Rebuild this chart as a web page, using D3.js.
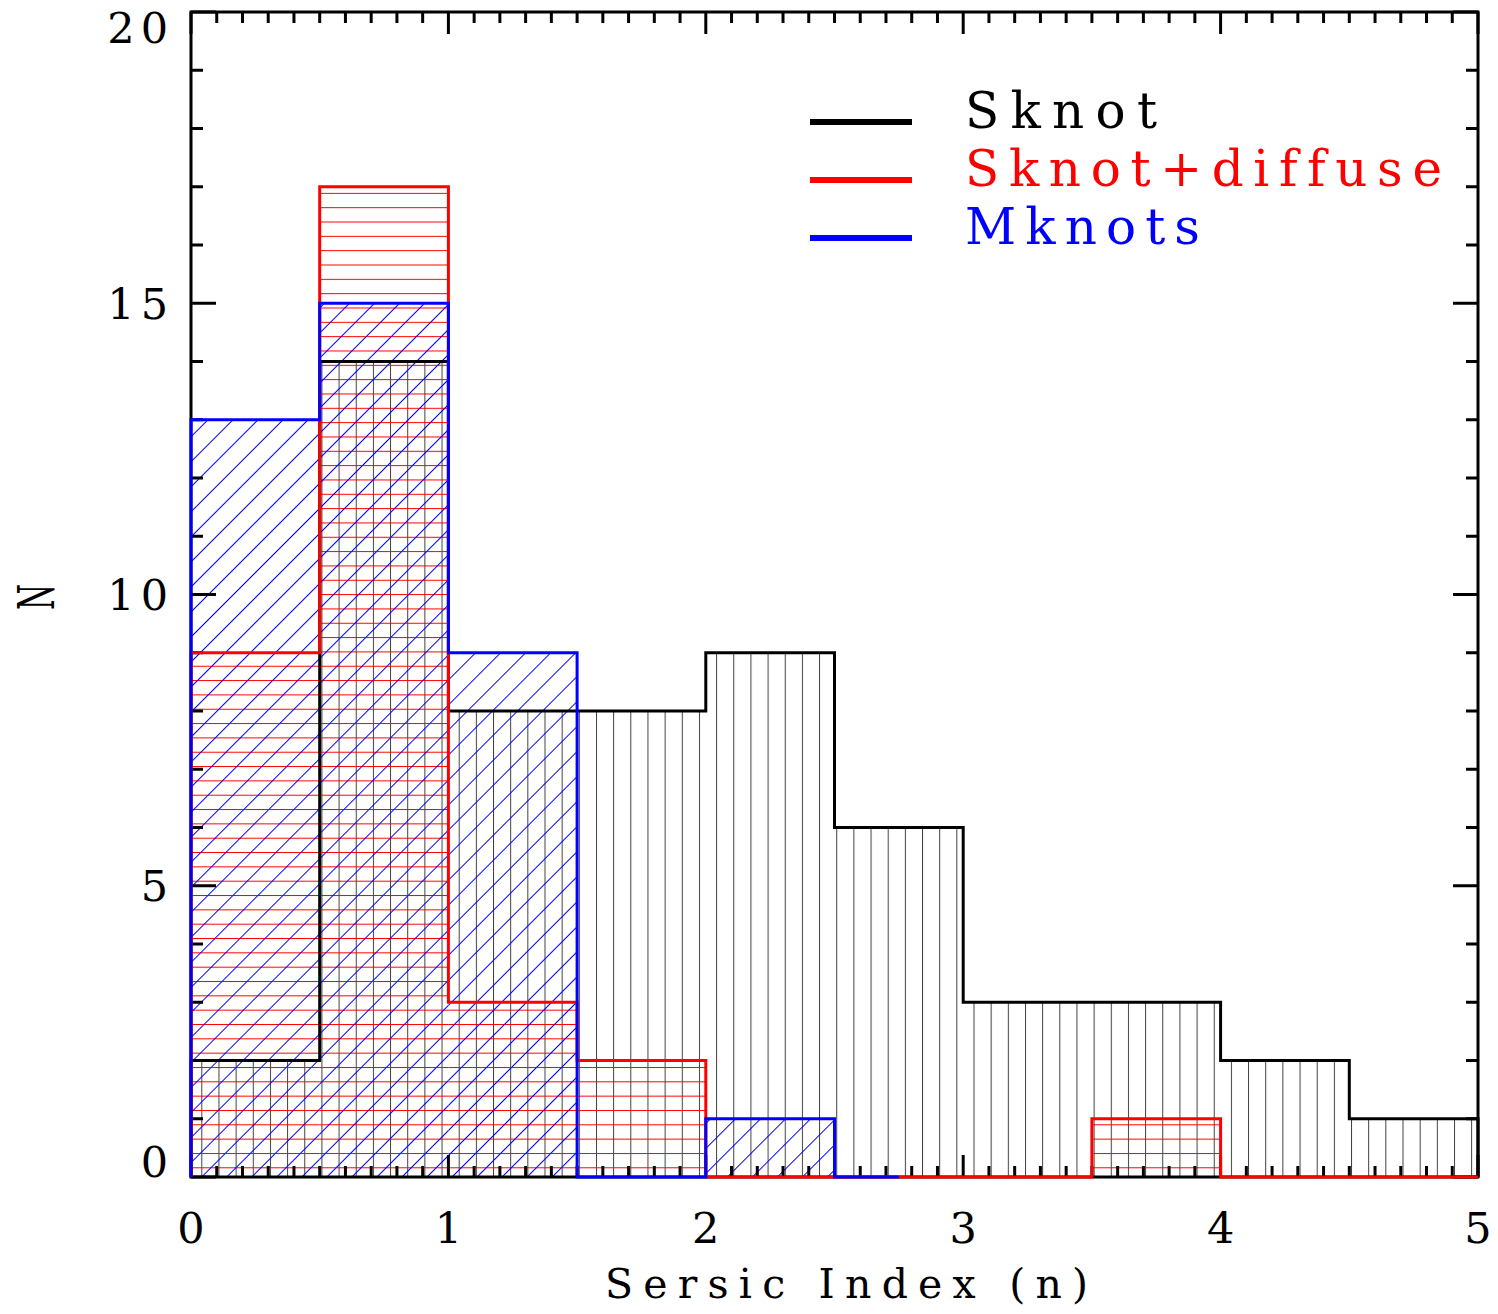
<!DOCTYPE html>
<html>
<head>
  <title>Sersic index histograms</title>
  <script src="https://d3js.org/d3.v7.min.js"></script>
  <style>
    body { margin: 0; background: #fff; }
    text { font-family: "DejaVu Serif", "Liberation Serif", serif; font-variant-ligatures: none; }
  </style>
</head>
<body>
  <svg id="chart" width="1498" height="1314"></svg>

  <script>
    // histogram bins (Sersic index n), bin width 0.5
    const binStarts = [0, 0.5, 1, 1.5, 2, 2.5, 3, 3.5, 4, 4.5];
    const binWidth = 0.5;

    // counts per bin
    const sknot        = [2, 14, 8, 8, 9, 6, 3, 3, 2, 1];
    const sknotDiffuse = [9, 17, 3, 2, 0, 0, 0, 1, 0, 0];
    const mknots       = [13, 15, 9, 0, 1, 0];
    const mknotsLastX  = 2.75;   // Mknots step line stops here

    const seriesNames = ["Sknot", "Sknot+diffuse", "Mknots"];
    const seriesColors = ["#000000", "#ff0000", "#0000ff"];

    const xTicks = [0, 1, 2, 3, 4, 5];
    const yTicks = [0, 5, 10, 15, 20];

    const svg = d3.select("#chart");
    const margin = { top: 12, right: 20, bottom: 137, left: 191 };
    const width = 1498, height = 1314;

    const x = d3.scaleLinear().domain([0, 5]).range([margin.left, width - margin.right]);
    const y = d3.scaleLinear().domain([0, 20]).range([height - margin.bottom, margin.top]);

    // hatch patterns
    const defs = svg.append("defs");
    const vert = defs.append("pattern").attr("id", "hatch-v")
      .attr("patternUnits", "userSpaceOnUse")
      .attr("width", 17.16).attr("height", 20)
      .attr("patternTransform", `translate(${x(0) + 10.3},0)`);
    vert.append("line").attr("x1", 0.5).attr("x2", 0.5).attr("y1", 0).attr("y2", 20)
      .attr("stroke", "#000").attr("stroke-width", 1).attr("stroke-opacity", 0.75);

    const horiz = defs.append("pattern").attr("id", "hatch-h")
      .attr("patternUnits", "userSpaceOnUse")
      .attr("width", 20).attr("height", 14.33)
      .attr("patternTransform", `translate(0,${y(0) - 9.7})`);
    horiz.append("line").attr("x1", 0).attr("x2", 20).attr("y1", 0.5).attr("y2", 0.5)
      .attr("stroke", "#ff0000").attr("stroke-width", 1);

    const diag = defs.append("pattern").attr("id", "hatch-d")
      .attr("patternUnits", "userSpaceOnUse")
      .attr("width", 17.7).attr("height", 20)
      .attr("patternTransform", `translate(${x(0) + 10},${y(0)}) rotate(45)`);
    diag.append("line").attr("x1", 0.5).attr("x2", 0.5).attr("y1", 0).attr("y2", 20)
      .attr("stroke", "#0000ff").attr("stroke-width", 1);

    const allSeries = [
      { values: sknot, end: 5, color: seriesColors[0], fill: "url(#hatch-v)" },
      { values: sknotDiffuse, end: 5, color: seriesColors[1], fill: "url(#hatch-h)" },
      { values: mknots, end: mknotsLastX, color: seriesColors[2], fill: "url(#hatch-d)" }
    ];

    // hatched bins
    allSeries.forEach(s => {
      svg.append("g").selectAll("rect")
        .data(s.values.map((v, i) => ({ x0: binStarts[i], v })).filter(d => d.v > 0))
        .enter().append("rect")
        .attr("x", d => x(d.x0))
        .attr("y", d => y(d.v))
        .attr("width", d => x(d.x0 + binWidth) - x(d.x0))
        .attr("height", d => y(0) - y(d.v))
        .attr("fill", s.fill);
    });

    // axis box
    svg.append("rect")
      .attr("x", x(0)).attr("y", y(20))
      .attr("width", x(5) - x(0)).attr("height", y(0) - y(20))
      .attr("fill", "none").attr("stroke", "#000").attr("stroke-width", 3);

    // ticks on all four sides, pointing inward
    const ticks = svg.append("g").attr("stroke", "#000").attr("stroke-width", 3);
    d3.range(0, 51).forEach(k => {
      const v = k / 10;
      const len = k % 10 === 0 ? 22 : 11;
      ticks.append("line").attr("x1", x(v)).attr("x2", x(v)).attr("y1", y(0)).attr("y2", y(0) - len);
      ticks.append("line").attr("x1", x(v)).attr("x2", x(v)).attr("y1", y(20)).attr("y2", y(20) + len);
    });
    d3.range(0, 21).forEach(v => {
      const len = v % 5 === 0 ? 25 : 12;
      ticks.append("line").attr("x1", x(0)).attr("x2", x(0) + len).attr("y1", y(v)).attr("y2", y(v));
      ticks.append("line").attr("x1", x(5)).attr("x2", x(5) - len).attr("y1", y(v)).attr("y2", y(v));
    });

    // step outlines
    const line = d3.line().x(d => x(d[0])).y(d => y(d[1]));
    allSeries.forEach(s => {
      const pts = [[0, 0]];
      s.values.forEach((v, i) => {
        const x0 = binStarts[i];
        const x1 = Math.min(x0 + binWidth, s.end);
        pts.push([x0, v], [x1, v]);
      });
      pts.push([s.end, 0]);
      svg.append("path").attr("d", line(pts))
        .attr("fill", "none").attr("stroke", s.color).attr("stroke-width", 3);
    });

    // tick labels
    const capH = 31;
    svg.append("g").selectAll("text").data(xTicks).enter().append("text")
      .attr("x", d => x(d) + 3).attr("y", 1243)
      .attr("text-anchor", "middle").attr("font-size", 43).attr("letter-spacing", 6)
      .text(d => d);
    svg.append("g").selectAll("text").data(yTicks).enter().append("text")
      .attr("x", 174)
      .attr("y", d => Math.min(y(0), Math.max(y(20) + capH, y(d) + capH / 2)))
      .attr("text-anchor", "end").attr("font-size", 43).attr("letter-spacing", 6)
      .text(d => d);

    // axis titles
    svg.append("text").attr("x", 605).attr("y", 1298)
      .attr("font-size", 41).attr("textLength", 483).attr("lengthAdjust", "spacing")
      .text("Sersic Index (n)");
    svg.append("text")
      .attr("transform", "translate(54,597) rotate(-90)")
      .attr("text-anchor", "middle").attr("font-size", 50)
      .attr("textLength", 26).attr("lengthAdjust", "spacingAndGlyphs")
      .text("N");

    // legend
    const legendY = [122, 180, 238];
    const legendBase = [128, 186, 244];
    const legendLen = [192, 477, 235];
    seriesNames.forEach((name, i) => {
      svg.append("line")
        .attr("x1", 810).attr("x2", 912).attr("y1", legendY[i]).attr("y2", legendY[i])
        .attr("stroke", seriesColors[i]).attr("stroke-width", 6);
      svg.append("text")
        .attr("x", 965).attr("y", legendBase[i])
        .attr("font-size", 50).attr("fill", seriesColors[i])
        .attr("textLength", legendLen[i]).attr("lengthAdjust", "spacing")
        .text(name);
    });
  </script>
</body>
</html>
